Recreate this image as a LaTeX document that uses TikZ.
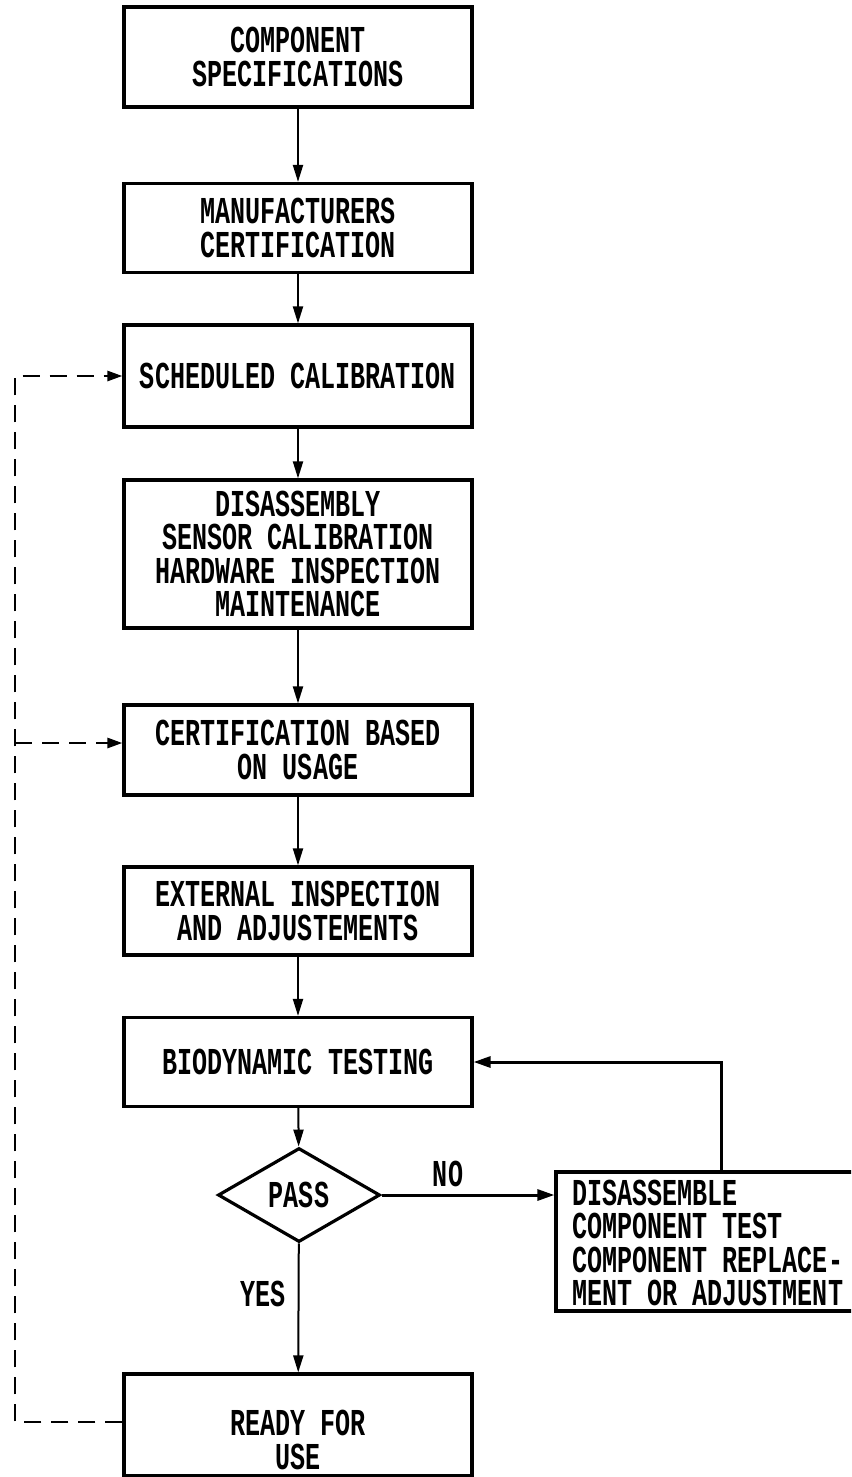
\documentclass[tikz,border=0pt]{standalone}
\usepackage{fontspec}
\newfontfamily\plotfont[FakeStretch=0.66]{Liberation Mono}
\usetikzlibrary{arrows.meta,shapes.geometric}
\begin{document}
\begin{tikzpicture}[x=1pt,y=-1pt,
  txt/.style={inner sep=0pt, align=center, font=\plotfont\bfseries\fontsize{38}{33.3}\selectfont},
  box/.style={txt, draw, line width=3.2pt, minimum width=348pt},
  arr/.style={line width=2pt, -{Triangle[length=17pt,width=10pt]}},
  fbarr/.style={line width=3pt, -{Triangle[length=17pt,width=11pt]}},
  dsh/.style={line width=2.6pt, dash pattern=on 17pt off 10pt},
  dsharr/.style={dsh, -{Triangle[length=15pt,width=10pt]}}]
\useasboundingbox (0,0) rectangle (851,1477);
\fill[white] (0,0) rectangle (851,1477);

\node[box, minimum height=100pt] (b1) at (298,57) {COMPONENT\\SPECIFICATIONS};
\node[box, minimum height=89pt] (b2) at (298,228) {MANUFACTURERS\\CERTIFICATION};
\node[box, minimum height=102pt] (b3) at (298,376) {SCHEDULED CALIBRATION};
\node[box, minimum height=148pt] (b4) at (298,554) {DISASSEMBLY\\SENSOR CALIBRATION\\HARDWARE INSPECTION\\MAINTENANCE};
\node[box, minimum height=90pt] (b5) at (298,750) {CERTIFICATION BASED\\ON USAGE};
\node[box, minimum height=88pt] (b6) at (298,911) {EXTERNAL INSPECTION\\AND ADJUSTEMENTS};
\node[box, minimum height=89pt] (b7) at (298,1062) {BIODYNAMIC TESTING};
\node[txt, draw, diamond, line width=3.2pt, minimum width=162pt, minimum height=94pt, shape aspect=1.72] (d) at (299,1195) {PASS};
\node[draw, line width=3.2pt, minimum width=348pt, minimum height=102pt, inner sep=0pt] (b8) at (298,1425) {};
\node[txt] (b8t) at (298,1440) {READY FOR\\USE};

\begin{scope}
  \clip (0,0) rectangle (851,1477);
  \node[draw, line width=3.2pt, minimum width=320pt, minimum height=139pt, inner sep=0pt] (rb) at (716,1241.5) {};
\end{scope}
\node[txt, align=left, anchor=west] (rbt) at (572,1243) {DISASSEMBLE\\COMPONENT TEST\\COMPONENT REPLACE-\\MENT OR ADJUSTMENT};

\node[txt] (no) at (448,1174) {NO};
\node[txt] (yes) at (263,1294) {YES};

\draw[arr] (b1) -- (b2);
\draw[arr] (b2) -- (b3);
\draw[arr] (b3) -- (b4);
\draw[arr] (b4) -- (b5);
\draw[arr] (b5) -- (b6);
\draw[arr] (b6) -- (b7);
\draw[arr] (b7) -- (d);
\draw[arr] (d) -- (b8);
\draw[fbarr] (d.east) -- (d.east -| rb.west);
\coordinate (fb) at (721,1062);
\draw[fbarr] (fb |- rb.north) -- (fb) -- (b7.east);

\coordinate (dx) at (15,0);
\draw[dsharr] (b8.west |- 0,1422) -| (dx |- b3.west) -- (b3.west);
\draw[dsharr] (dx |- 0,743) -- (b5.west |- 0,743);
\end{tikzpicture}
\end{document}
